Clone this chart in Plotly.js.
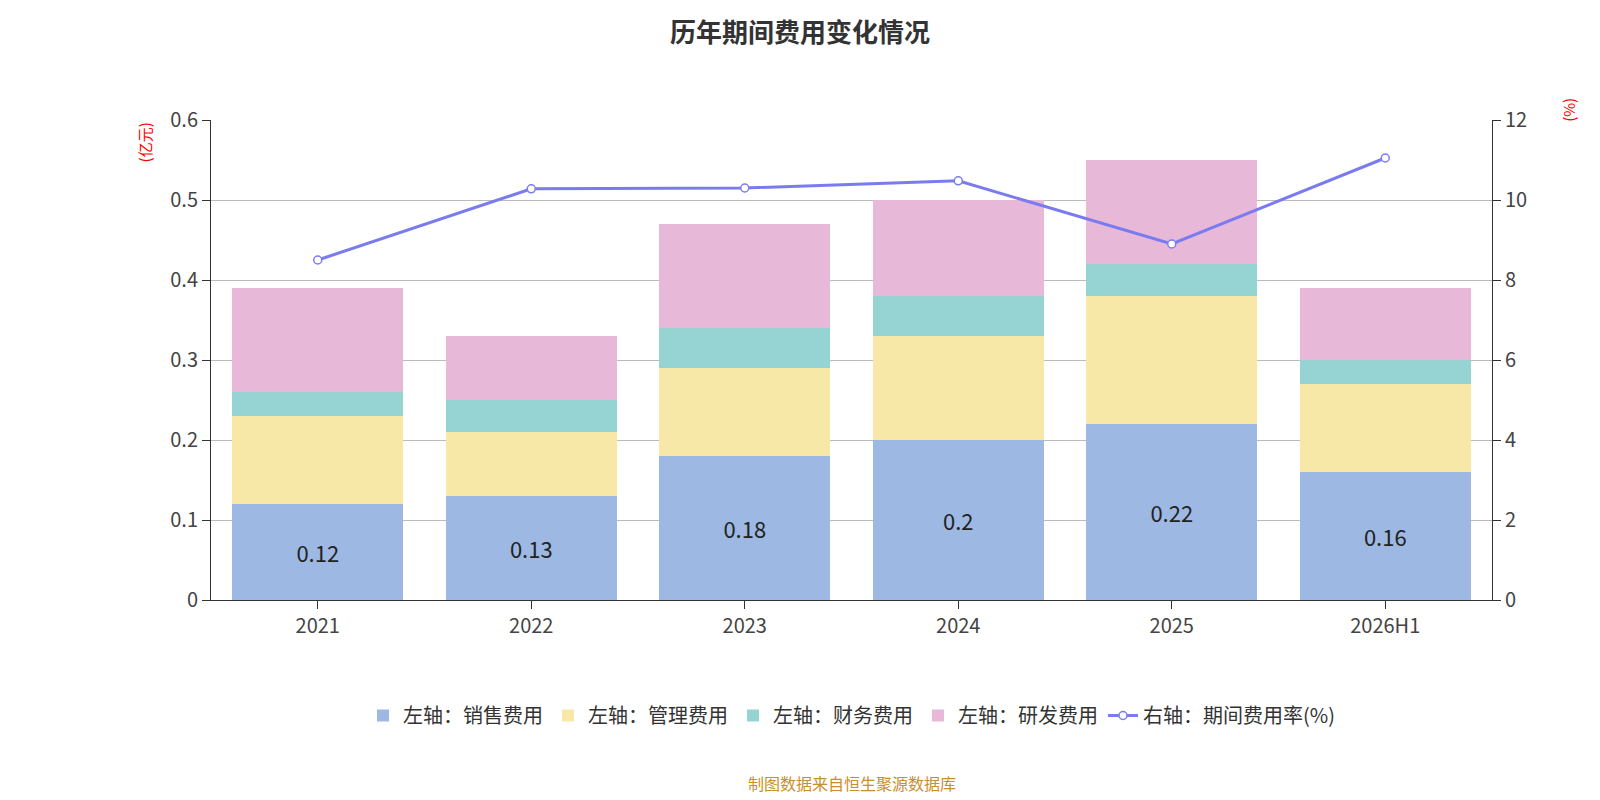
<!DOCTYPE html>
<html>
<head>
<meta charset="utf-8">
<script src="https://cdn.plot.ly/plotly-3.0.1.min.js"></script>
<style>body{margin:0;}#chart{width:1600px;height:800px;}</style>
</head>
<body>
<div id="chart"></div>
<script>
var years = ['2021', '2022', '2023', '2024', '2025', '2026H1'];
var sales = [0.12, 0.13, 0.18, 0.2, 0.22, 0.16];
var admin = [0.11, 0.08, 0.11, 0.13, 0.16, 0.11];
var finance = [0.03, 0.04, 0.05, 0.05, 0.04, 0.03];
var rnd = [0.13, 0.08, 0.13, 0.12, 0.13, 0.09];
var rate = [8.5, 10.28, 10.3, 10.48, 8.9, 11.05];

function bar(name, y, color, labels) {
    var t = { x: years, y: y, name: name, type: 'bar', marker: { color: color }, hoverinfo: 'y' };
    if (labels) {
        t.text = y.map(String);
        t.textposition = 'inside';
        t.insidetextanchor = 'middle';
        t.textfont = { size: 22, color: '#222' };
    } else {
        t.textposition = 'none';
    }
    return t;
}

var data = [
    bar('左轴：销售费用', sales, '#9db8e2', true),
    bar('左轴：管理费用', admin, '#f8e8a8', false),
    bar('左轴：财务费用', finance, '#96d4d4', false),
    bar('左轴：研发费用', rnd, '#e8b8d8', false),
    { x: years, y: rate, name: '右轴：期间费用率(%)', type: 'scatter', mode: 'lines+markers', yaxis: 'y2',
      line: { color: '#7b7bf0', width: 3 },
      marker: { color: '#fff', size: 8, line: { color: '#7b7bf0', width: 1.5 } } }
];

var layout = {
    width: 1600, height: 800,
    margin: { l: 211, r: 108, t: 120, b: 200 },
    font: { family: 'Noto Sans CJK SC, sans-serif', color: '#333' },
    title: { text: '<b>历年期间费用变化情况</b>', x: 0.5, y: 0.97, font: { size: 26, color: '#333' } },
    barmode: 'stack', bargap: 0.2,
    plot_bgcolor: '#fff', paper_bgcolor: '#fff',
    xaxis: { type: 'category', showline: true, linecolor: '#333', ticks: 'outside', tickcolor: '#333', ticklen: 8,
             tickfont: { size: 20, color: '#444' } },
    yaxis: { range: [0, 0.6], dtick: 0.1, showline: true, linecolor: '#333', ticks: 'outside', tickcolor: '#333',
             ticklen: 8, gridcolor: '#bbb', zeroline: false, tickfont: { size: 20, color: '#444' } },
    yaxis2: { overlaying: 'y', side: 'right', range: [0, 12], dtick: 2, showgrid: false, showline: true,
              linecolor: '#333', ticks: 'outside', tickcolor: '#333', ticklen: 8, zeroline: false,
              tickfont: { size: 20, color: '#444' } },
    legend: { orientation: 'h', traceorder: 'normal', x: 0.5, xanchor: 'center', y: -0.2, yanchor: 'top',
              font: { size: 20, color: '#333' } },
    annotations: [
        { text: '(亿元)', xref: 'paper', yref: 'paper', x: -0.052, y: 1.0, textangle: -90, showarrow: false,
          xanchor: 'center', yanchor: 'top', font: { size: 15, color: 'red' } },
        { text: '(%)', xref: 'paper', yref: 'paper', x: 1.06, y: 1.05, textangle: -90, showarrow: false,
          xanchor: 'center', yanchor: 'top', font: { size: 15, color: 'red' } },
        { text: '制图数据来自恒生聚源数据库', xref: 'paper', yref: 'paper', x: 0.5, y: -0.41, showarrow: false,
          xanchor: 'center', font: { size: 16, color: '#c8902a' } }
    ]
};

Plotly.newPlot('chart', data, layout, { displayModeBar: false });
</script>
</body>
</html>
